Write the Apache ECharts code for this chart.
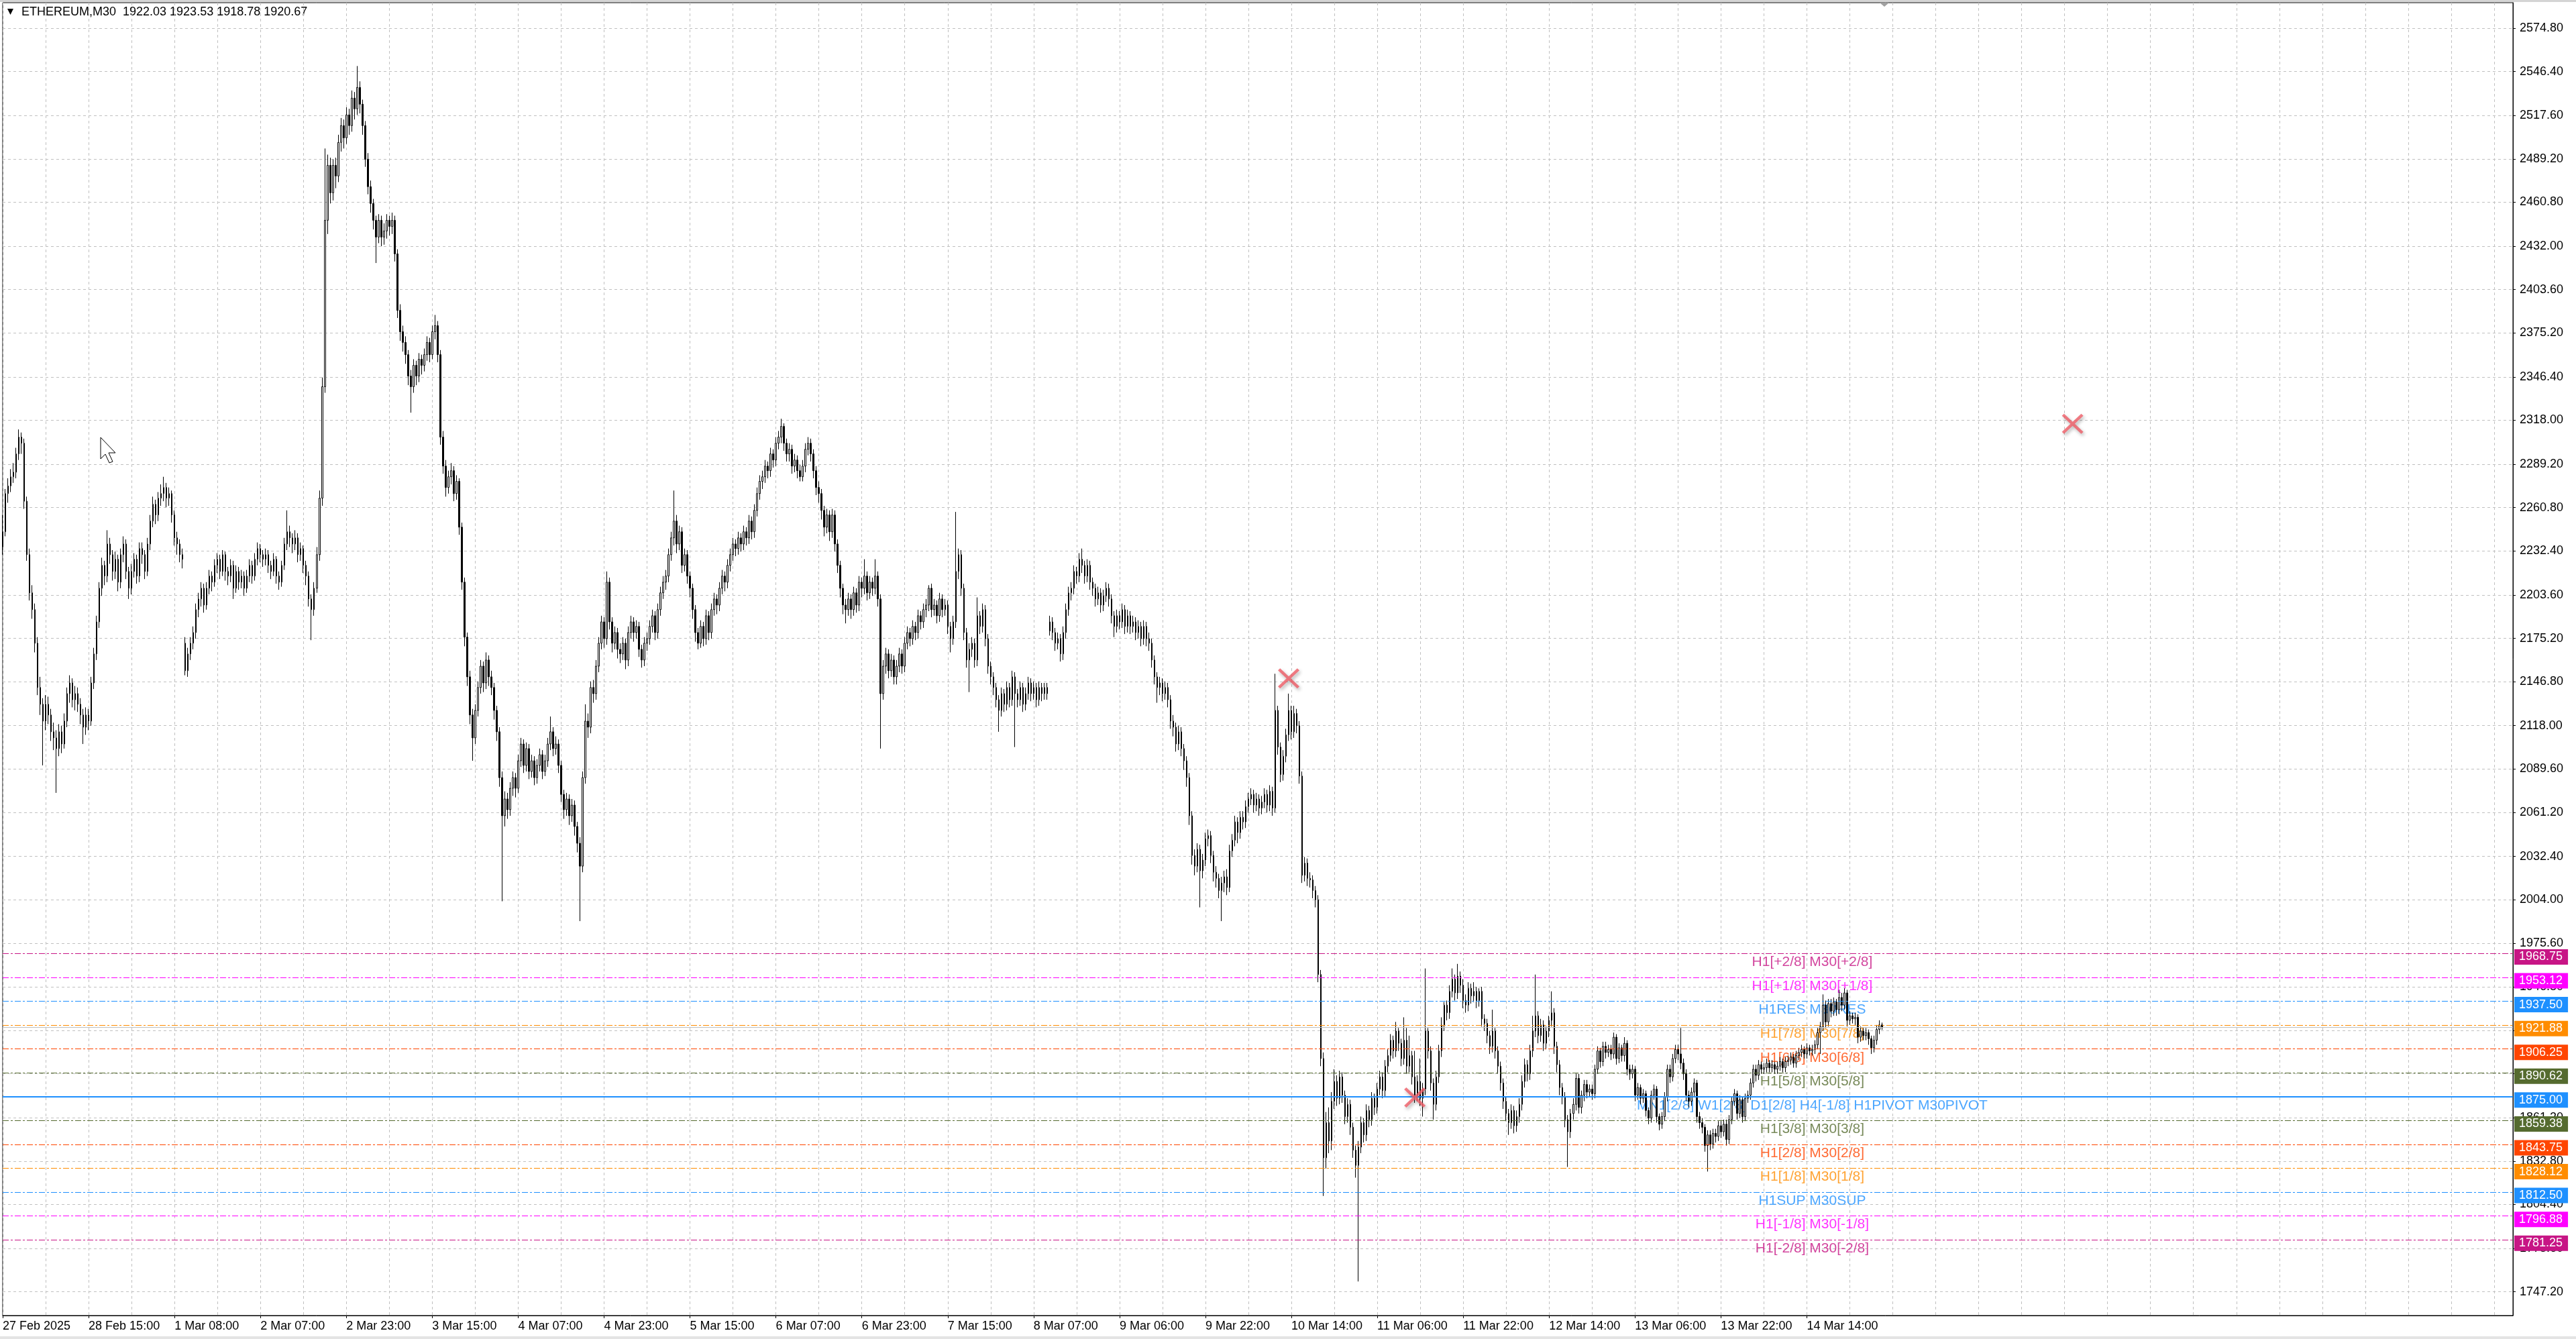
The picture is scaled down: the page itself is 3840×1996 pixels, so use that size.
<!DOCTYPE html>
<html>
<head>
<meta charset="utf-8">
<title>ETHEREUM,M30</title>
<script src="https://cdn.jsdelivr.net/npm/echarts@6/dist/echarts.min.js"></script>
<style>
html, body { margin: 0; padding: 0; background: #fff; }
#chart { width: 3840px; height: 1996px; }
</style>
</head>
<body>
<div id="chart"></div>
<script>
// time labels, one every 32 bars
var xTickLabels = ['27 Feb 2025', '28 Feb 15:00', '1 Mar 08:00', '2 Mar 07:00', '2 Mar 23:00', '3 Mar 15:00',
  '4 Mar 07:00', '4 Mar 23:00', '5 Mar 15:00', '6 Mar 07:00', '6 Mar 23:00', '7 Mar 15:00', '8 Mar 07:00',
  '9 Mar 06:00', '9 Mar 22:00', '10 Mar 14:00', '11 Mar 06:00', '11 Mar 22:00', '12 Mar 14:00',
  '13 Mar 06:00', '13 Mar 22:00', '14 Mar 14:00'];

// price scale labels
var yTicks = [1747.2, 1775.6, 1804.4, 1832.8, 1861.2, 1890.0, 1918.4, 1946.8, 1975.6, 2004.0, 2032.4,
  2061.2, 2089.6, 2118.0, 2146.8, 2175.2, 2203.6, 2232.4, 2260.8, 2289.2, 2318.0, 2346.4, 2375.2,
  2403.6, 2432.0, 2460.8, 2489.2, 2517.6, 2546.4, 2574.8];

// murrey levels
var levelValues = [1968.75, 1953.12, 1937.50, 1921.88, 1906.25, 1890.62, 1875.00, 1859.38, 1843.75,
  1828.12, 1812.50, 1796.88, 1781.25];
var levelNames = ['H1[+2/8] M30[+2/8]', 'H1[+1/8] M30[+1/8]', 'H1RES M30RES', 'H1[7/8] M30[7/8]',
  'H1[6/8] M30[6/8]', 'H1[5/8] M30[5/8]', 'MN1[2/8] W1[2/8] D1[2/8] H4[-1/8] H1PIVOT M30PIVOT',
  'H1[3/8] M30[3/8]', 'H1[2/8] M30[2/8]', 'H1[1/8] M30[1/8]', 'H1SUP M30SUP', 'H1[-1/8] M30[-1/8]',
  'H1[-2/8] M30[-2/8]'];
var levelColors = ['#C71585', '#FF00FF', '#1E90FF', '#FF8C00', '#FF4500', '#556B2F', '#1E90FF',
  '#556B2F', '#FF4500', '#FF8C00', '#1E90FF', '#FF00FF', '#C71585'];

// red crosses [bar, price]
var crossPoints = [[479, 2149], [526, 1874.5], [771, 2315.7]];

// candles [open, close, low, high]
var segA = [
  [2235,2245,2230,2256],[2245,2270,2242,2273],[2270,2275,2264,2280],[2275,2281,2271,2286],[2281,2284,2277,2290],
  [2284,2296,2280,2300],[2296,2307,2292,2312],[2307,2303,2296,2310],[2303,2265,2260,2306],[2265,2230,2226,2268],
  [2230,2205,2200,2234],[2205,2194,2188,2210],[2194,2172,2166,2198],[2172,2143,2138,2176],[2143,2132,2125,2150],
  [2132,2121,2092,2136],[2121,2132,2115,2138],[2132,2125,2119,2137],[2125,2114,2108,2129],[2114,2110,2102,2120],
  [2110,2103,2074,2115],[2103,2114,2098,2119],[2114,2106,2100,2118],[2106,2121,2103,2126],[2121,2139,2117,2143],
  [2139,2146,2133,2151],[2146,2135,2130,2149],[2135,2139,2128,2144],[2139,2132,2127,2143],[2132,2125,2119,2136],
  [2125,2117,2106,2129],[2117,2125,2112,2130],[2125,2121,2115,2129],[2121,2146,2118,2150],[2146,2165,2142,2169],
  [2165,2186,2161,2190],[2186,2208,2182,2212],[2208,2223,2203,2228],[2223,2216,2210,2226],[2216,2237,2212,2246],
  [2237,2230,2224,2241],[2230,2219,2213,2233],[2219,2227,2214,2232],[2227,2212,2206,2230],[2212,2230,2208,2234],
  [2230,2237,2225,2242],[2237,2219,2214,2240],[2219,2208,2201,2222],[2208,2219,2204,2224],[2219,2227,2215,2231],
  [2227,2216,2211,2230],[2216,2234,2212,2238],[2234,2230,2224,2238],[2230,2219,2214,2233],[2219,2237,2216,2241],
  [2237,2252,2233,2256],[2252,2263,2248,2268],[2263,2256,2250,2266],[2256,2267,2252,2271],[2267,2270,2262,2276],
  [2270,2274,2265,2281],[2274,2267,2261,2277],[2267,2270,2262,2274],[2270,2256,2251,2272],[2256,2241,2236,2259],
  [2241,2237,2230,2245],[2237,2230,2225,2240],[2230,2227,2221,2234],[2172,2154,2151,2176],[2154,2165,2150,2169],
  [2165,2172,2161,2176],[2172,2179,2168,2183],[2179,2194,2175,2198],[2194,2201,2189,2205],[2201,2208,2196,2212],
  [2208,2197,2192,2211],[2197,2208,2194,2212],[2208,2216,2204,2220],[2216,2212,2206,2219],[2212,2223,2209,2227],
  [2223,2227,2218,2231],[2227,2219,2214,2230],[2219,2230,2216,2233],[2230,2219,2213,2232],[2219,2216,2210,2222],
  [2216,2223,2212,2227],[2223,2208,2201,2226],[2208,2219,2205,2223],[2219,2212,2207,2222],[2212,2216,2208,2220],
  [2216,2208,2203,2219],[2208,2216,2205,2220],[2216,2223,2212,2227],[2223,2216,2211,2226],[2216,2227,2213,2231],
  [2227,2234,2223,2238],[2234,2230,2225,2237],[2230,2227,2222,2233],[2227,2230,2223,2234],[2230,2223,2218,2233],
  [2223,2219,2214,2226],[2219,2227,2216,2231],[2227,2216,2211,2229],[2216,2212,2207,2219],[2212,2223,2209,2226],
  [2223,2237,2220,2241],[2237,2245,2233,2259],[2245,2241,2235,2249],[2241,2237,2231,2244],[2237,2241,2233,2246],
  [2241,2230,2225,2244],[2230,2234,2226,2238],[2234,2223,2218,2236],[2223,2216,2210,2226],[2216,2201,2196,2219],
  [2201,2194,2174,2204],[2194,2208,2190,2212],[2208,2230,2205,2235],[2230,2267,2226,2272],[2267,2340,2262,2346]
];
var segB = [
  [2340,2449,2336,2496],[2449,2485,2440,2492],[2485,2467,2460,2490],[2467,2485,2462,2489],[2485,2478,2470,2490],
  [2478,2500,2474,2505],[2500,2511,2494,2516],[2511,2503,2496,2515],[2503,2518,2499,2523],[2518,2511,2505,2522],
  [2511,2529,2507,2534],[2529,2522,2515,2533],[2522,2536,2518,2550],[2536,2525,2519,2540],[2525,2511,2505,2528],
  [2511,2489,2484,2514],[2489,2471,2466,2493],[2471,2460,2454,2475],[2460,2449,2443,2463],[2449,2438,2421,2452],
  [2438,2449,2434,2453],[2449,2438,2432,2452],[2438,2442,2433,2447],[2442,2449,2437,2453],[2449,2445,2439,2452],
  [2445,2449,2440,2454],[2449,2427,2422,2452],[2427,2390,2385,2430],[2390,2376,2370,2394],[2376,2369,2363,2380],
  [2369,2361,2355,2373],[2361,2347,2341,2364],[2347,2340,2323,2351],[2340,2354,2336,2358],[2354,2347,2341,2357],
  [2347,2358,2343,2362],[2358,2354,2348,2361],[2354,2361,2350,2365],[2361,2369,2357,2373],[2369,2361,2356,2372],
  [2361,2376,2358,2380],[2376,2380,2371,2387],[2380,2361,2356,2383],[2361,2307,2302,2364],[2307,2288,2283,2311],
  [2288,2274,2268,2292],[2274,2281,2270,2285],[2281,2285,2276,2290],[2285,2270,2265,2288],[2270,2278,2266,2282],
  [2278,2248,2243,2280],[2248,2212,2207,2251],[2212,2176,2170,2215],[2176,2150,2144,2179],[2150,2125,2119,2154],
  [2125,2110,2095,2129],[2110,2128,2106,2132],[2128,2143,2124,2147],[2143,2157,2139,2161],[2157,2146,2140,2160],
  [2146,2161,2142,2166],[2161,2150,2144,2164],[2150,2143,2138,2154],[2143,2128,2122,2146],[2128,2114,2108,2131],
  [2114,2084,2078,2117],[2084,2059,2003,2088],[2059,2070,2052,2075],[2070,2063,2057,2074],[2063,2077,2059,2081],
  [2077,2084,2072,2088],[2084,2077,2071,2087],[2077,2095,2074,2099],[2095,2106,2091,2110],[2106,2092,2087,2109],
  [2092,2103,2088,2107],[2103,2088,2083,2106],[2088,2095,2084,2099],[2095,2084,2079,2098],[2084,2092,2080,2096],
  [2092,2099,2088,2103],[2099,2088,2083,2102],[2088,2095,2085,2099],[2095,2106,2091,2110],[2106,2114,2102,2124],
  [2114,2103,2098,2117],[2103,2106,2099,2111],[2106,2092,2087,2109],[2092,2073,2068,2095],[2073,2063,2057,2076],
  [2063,2070,2059,2074],[2070,2059,2053,2073],[2059,2066,2055,2070],[2066,2052,2046,2069],[2052,2041,2035,2055],
  [2041,2026,1990,2045],[2026,2084,2022,2088],[2084,2121,2080,2132],[2121,2117,2110,2126],[2117,2143,2113,2147],
  [2143,2139,2133,2148],[2139,2157,2135,2161],[2157,2172,2153,2176],[2172,2186,2168,2190],[2186,2175,2169,2189],
  [2175,2212,2171,2219],[2212,2186,2181,2215],[2186,2172,2166,2189],[2172,2179,2168,2183],[2179,2168,2162,2182],
  [2168,2165,2159,2172],[2165,2172,2161,2176],[2172,2161,2155,2175],[2161,2179,2157,2183],[2179,2186,2175,2190],
  [2186,2179,2173,2189],[2179,2183,2175,2187],[2183,2168,2163,2186],[2168,2161,2156,2171],[2161,2172,2157,2176]
];
var segC = [
  [2172,2175,2167,2179],[2175,2183,2171,2187],[2183,2190,2179,2194],[2190,2179,2174,2193],[2179,2194,2175,2198],
  [2194,2205,2190,2209],[2205,2212,2201,2216],[2212,2216,2207,2220],[2216,2230,2212,2234],[2230,2241,2226,2245],
  [2241,2252,2236,2272],[2252,2237,2231,2256],[2237,2245,2233,2249],[2245,2223,2218,2248],[2223,2230,2219,2234],
  [2230,2216,2211,2233],[2216,2208,2202,2219],[2208,2194,2188,2211],[2194,2179,2173,2197],[2179,2172,2168,2182],
  [2172,2183,2169,2187],[2183,2175,2170,2186],[2175,2190,2171,2194],[2190,2179,2174,2193],[2179,2194,2175,2198],
  [2194,2201,2190,2205],[2201,2197,2191,2204],[2197,2208,2193,2212],[2208,2216,2204,2220],[2216,2212,2206,2219],
  [2212,2223,2208,2227],[2223,2230,2219,2234],[2230,2237,2226,2241],[2237,2234,2229,2240],[2234,2241,2230,2245],
  [2241,2237,2232,2244],[2237,2245,2233,2249],[2245,2241,2236,2248],[2241,2252,2237,2256],[2252,2245,2240,2255],
  [2245,2259,2241,2263],[2259,2270,2255,2274],[2270,2278,2266,2282],[2278,2281,2273,2285],[2281,2288,2277,2292],
  [2288,2285,2280,2291],[2285,2296,2281,2300],[2296,2292,2287,2299],[2292,2303,2288,2307],[2303,2307,2299,2311],
  [2307,2314,2303,2319],[2314,2303,2298,2316],[2303,2296,2291,2306],[2296,2299,2291,2303],[2299,2288,2283,2302],
  [2288,2292,2284,2296],[2292,2285,2280,2295],[2285,2281,2278,2289],[2281,2288,2278,2292],[2288,2299,2284,2303],
  [2299,2303,2295,2307],[2303,2296,2291,2306],[2296,2285,2280,2299],[2285,2274,2269,2288],[2274,2270,2264,2278],
  [2270,2259,2253,2273],[2259,2248,2242,2262],[2248,2256,2244,2260],[2256,2245,2239,2259],[2245,2256,2241,2260],
  [2256,2237,2232,2259],[2237,2223,2218,2240],[2223,2208,2202,2226],[2208,2197,2191,2211],[2197,2194,2185,2201],
  [2194,2201,2190,2205],[2201,2194,2188,2204],[2194,2205,2190,2209],[2205,2197,2192,2208],[2197,2212,2193,2216],
  [2212,2208,2202,2215],[2208,2216,2204,2227],[2216,2205,2200,2219],[2205,2212,2201,2216],[2212,2208,2203,2215],
  [2208,2216,2204,2227],[2216,2201,2196,2219],[2201,2139,2103,2204],[2139,2157,2135,2161],[2157,2165,2152,2169],
  [2165,2154,2149,2168],[2154,2161,2150,2165],[2161,2150,2145,2164],[2150,2157,2145,2161],[2157,2165,2153,2169],
  [2165,2157,2152,2168],[2157,2172,2153,2176],[2172,2179,2168,2183],[2179,2175,2170,2182],[2175,2183,2171,2187],
  [2183,2179,2174,2186],[2179,2190,2175,2194],[2190,2186,2181,2193],[2186,2194,2182,2198],[2194,2197,2189,2201],
  [2197,2208,2193,2210],[2208,2194,2189,2211],[2194,2197,2190,2201],[2197,2190,2185,2200],[2190,2201,2186,2205],
  [2201,2194,2189,2204],[2194,2197,2190,2201],[2197,2183,2178,2200],[2183,2175,2166,2186],[2175,2186,2171,2190],
  [2186,2219,2182,2258],[2219,2230,2214,2234],[2230,2208,2203,2233],[2208,2179,2174,2211],[2179,2161,2156,2182]
];
var segD = [
  [2161,2168,2140,2172],[2168,2172,2163,2176],[2172,2161,2156,2175],[2161,2190,2157,2202],[2190,2183,2178,2193],
  [2183,2194,2179,2198],[2194,2175,2170,2197],[2175,2157,2152,2178],[2157,2150,2145,2160],[2150,2143,2138,2153],
  [2143,2135,2130,2146],[2135,2128,2114,2138],[2128,2139,2124,2143],[2139,2132,2127,2142],[2132,2143,2128,2147],
  [2143,2135,2130,2146],[2135,2150,2131,2154],[2150,2139,2104,2153],[2139,2135,2130,2142],[2135,2143,2131,2147],
  [2143,2132,2127,2146],[2132,2139,2128,2143],[2139,2146,2135,2150],[2146,2139,2134,2149],[2139,2143,2135,2147],
  [2143,2135,2130,2146],[2135,2143,2131,2147],[2143,2139,2134,2146],[2139,2143,2135,2146],[2143,2139,2135,2146],
  [2180,2186,2177,2190],[2186,2179,2174,2189],[2179,2172,2167,2182],[2172,2175,2168,2179],[2175,2165,2160,2178],
  [2165,2179,2161,2183],[2179,2194,2175,2198],[2194,2205,2190,2209],[2205,2208,2200,2212],[2208,2219,2204,2223],
  [2219,2216,2211,2222],[2216,2227,2212,2231],[2227,2223,2218,2234],[2223,2216,2211,2226],[2216,2223,2212,2227],
  [2223,2212,2207,2226],[2212,2208,2203,2215],[2208,2201,2196,2211],[2201,2205,2197,2209],[2205,2197,2192,2208],
  [2197,2203,2193,2207],[2203,2208,2199,2212],[2208,2201,2196,2211],[2201,2190,2185,2204],[2190,2183,2176,2193],
  [2183,2190,2179,2194],[2190,2186,2181,2193],[2186,2194,2182,2198],[2194,2183,2178,2197],[2183,2190,2179,2194],
  [2190,2183,2178,2193],[2183,2186,2179,2190],[2186,2179,2174,2189],[2179,2183,2175,2187],[2183,2175,2170,2186],
  [2175,2183,2171,2187],[2183,2175,2170,2186],[2175,2172,2167,2179],[2172,2161,2156,2175],[2161,2150,2145,2164],
  [2150,2143,2133,2153],[2143,2146,2138,2150],[2146,2139,2134,2149],[2139,2143,2135,2147],[2143,2135,2130,2146],
  [2135,2121,2116,2138],[2121,2117,2111,2125],[2117,2106,2101,2120],[2106,2114,2102,2118],[2114,2103,2098,2117],
  [2103,2095,2089,2106],[2095,2084,2078,2098],[2084,2059,2053,2087],[2059,2033,2027,2062],[2033,2026,2020,2037],
  [2026,2037,2022,2041],[2037,2023,1999,2040],[2023,2030,2018,2034],[2030,2044,2026,2048],[2044,2046,2039,2050],
  [2046,2033,2028,2049],[2033,2022,2016,2036],[2022,2018,2012,2026],[2018,2010,2005,2021],[2010,2015,1990,2019],
  [2015,2019,2009,2023],[2019,2012,2007,2024],[2012,2036,2009,2040],[2036,2043,2032,2047],[2043,2055,2039,2059],
  [2055,2048,2041,2058],[2048,2058,2044,2062],[2058,2055,2050,2062],[2055,2065,2051,2069],[2065,2070,2061,2074],
  [2070,2073,2066,2077],[2073,2066,2061,2076],[2066,2070,2062,2074],[2070,2064,2059,2073],[2064,2068,2060,2072],
  [2068,2073,2064,2077],[2073,2066,2061,2076],[2066,2075,2062,2079],[2075,2064,2059,2078],[2064,2128,2061,2152],
  [2128,2104,2099,2131],[2104,2086,2081,2107],[2086,2098,2082,2102],[2098,2112,2094,2116],[2112,2128,2108,2139]
];
var segE = [
  [2128,2114,2109,2131],[2114,2126,2110,2131],[2126,2118,2113,2129],[2118,2085,2080,2121],[2085,2020,2015,2088],
  [2020,2028,2016,2032],[2028,2018,2013,2031],[2018,2017,2012,2022],[2017,2010,2005,2020],[2010,2004,1999,2013],
  [2004,1955,1950,2007],[1955,1900,1895,1958],[1900,1835,1810,1904],[1835,1858,1828,1865],[1858,1846,1838,1868],
  [1846,1872,1840,1878],[1872,1885,1867,1893],[1885,1874,1869,1889],[1874,1888,1870,1892],[1888,1876,1871,1891],
  [1876,1862,1857,1879],[1862,1870,1858,1874],[1870,1855,1850,1873],[1855,1840,1835,1858],[1840,1830,1822,1843],
  [1830,1842,1754,1846],[1842,1858,1838,1862],[1858,1850,1845,1861],[1850,1866,1846,1870],[1866,1860,1855,1869],
  [1860,1874,1856,1878],[1874,1868,1863,1877],[1868,1880,1864,1884],[1880,1888,1876,1892],[1888,1879,1874,1891],
  [1879,1895,1875,1899],[1895,1902,1891,1906],[1902,1912,1898,1916],[1912,1905,1900,1915],[1905,1918,1901,1924],
  [1918,1910,1905,1920],[1910,1900,1895,1913],[1900,1912,1896,1927],[1912,1895,1890,1920],[1895,1902,1891,1915],
  [1902,1888,1883,1905],[1888,1876,1871,1905],[1876,1885,1872,1889],[1885,1874,1869,1900],[1874,1880,1862,1884],
  [1880,1918,1876,1959],[1918,1905,1900,1920],[1905,1884,1879,1908],[1884,1870,1860,1887],[1870,1888,1866,1892],
  [1888,1905,1884,1909],[1905,1922,1901,1927],[1922,1935,1918,1937],[1935,1930,1925,1938],[1930,1944,1926,1948],
  [1944,1952,1940,1959],[1952,1943,1938,1955],[1943,1954,1939,1962],[1954,1948,1943,1957],[1948,1938,1933,1952],
  [1938,1935,1930,1942],[1935,1946,1931,1950],[1946,1941,1936,1949],[1941,1944,1937,1950],[1944,1938,1933,1947],
  [1938,1944,1934,1946],[1944,1926,1921,1947],[1926,1923,1918,1929],[1923,1915,1910,1926],[1915,1908,1903,1918],
  [1908,1918,1904,1932],[1918,1905,1900,1920],[1905,1895,1890,1908],[1895,1884,1879,1898],[1884,1872,1867,1887],
  [1872,1864,1859,1875],[1864,1858,1850,1867],[1858,1866,1854,1870],[1866,1856,1851,1869],[1856,1862,1852,1866],
  [1862,1870,1858,1874],[1870,1885,1866,1889],[1885,1896,1881,1900],[1896,1890,1885,1899],[1890,1905,1886,1909],
  [1905,1918,1901,1928],[1918,1928,1914,1955],[1928,1915,1910,1931],[1915,1922,1911,1926],[1922,1910,1905,1925],
  [1910,1918,1906,1921],[1918,1925,1914,1928],[1925,1930,1921,1944],[1930,1908,1903,1933],[1908,1896,1891,1911],
  [1896,1881,1876,1899],[1881,1875,1870,1884],[1875,1860,1855,1878],[1860,1852,1829,1863],[1852,1864,1848,1867],
  [1864,1870,1860,1874],[1870,1887,1866,1890],[1887,1868,1864,1890],[1868,1876,1864,1879],[1876,1883,1872,1886],
  [1883,1878,1874,1886],[1878,1880,1875,1883],[1880,1877,1873,1883],[1877,1893,1874,1896],[1893,1905,1890,1908],
  [1905,1898,1894,1907],[1898,1908,1895,1911],[1908,1904,1900,1911],[1904,1906,1901,1909],[1906,1903,1899,1909]
];
var segF = [
  [1903,1914,1900,1917],[1914,1900,1896,1916],[1900,1907,1897,1910],[1907,1902,1898,1909],[1902,1910,1898,1914],
  [1910,1893,1889,1912],[1893,1890,1886,1896],[1890,1893,1887,1896],[1893,1876,1872,1895],[1876,1881,1873,1884],
  [1881,1874,1870,1883],[1874,1877,1871,1880],[1877,1866,1862,1879],[1866,1861,1857,1868],[1861,1876,1858,1879],
  [1876,1880,1873,1883],[1880,1862,1858,1882],[1862,1857,1853,1864],[1857,1862,1854,1865],[1862,1875,1859,1878],
  [1875,1893,1872,1896],[1893,1888,1884,1896],[1888,1900,1885,1903],[1900,1906,1897,1909],[1906,1903,1899,1909],
  [1903,1897,1893,1920],[1897,1890,1886,1900],[1890,1876,1872,1893],[1876,1872,1868,1879],[1872,1878,1869,1881],
  [1878,1884,1875,1887],[1884,1862,1858,1886],[1862,1858,1854,1865],[1858,1855,1851,1861],[1855,1843,1839,1857],
  [1843,1850,1826,1853],[1850,1844,1840,1853],[1844,1851,1841,1854],[1851,1849,1845,1854],[1849,1856,1846,1859],
  [1856,1852,1848,1859],[1852,1857,1849,1860],[1857,1847,1843,1860],[1847,1860,1844,1863],[1860,1872,1857,1875],
  [1872,1877,1869,1880],[1877,1864,1860,1879],[1864,1873,1861,1876],[1873,1862,1858,1875],[1862,1874,1859,1877],
  [1874,1876,1871,1879],[1876,1884,1873,1887],[1884,1893,1881,1896],[1893,1889,1885,1896],[1889,1896,1886,1899],
  [1896,1893,1890,1898],[1893,1894,1890,1897],[1894,1897,1891,1900],[1897,1894,1891,1899],[1894,1896,1891,1899],
  [1896,1893,1890,1898],[1893,1895,1890,1898],[1895,1898,1892,1901],[1898,1894,1891,1900],[1894,1898,1891,1901],
  [1898,1899,1895,1902],[1899,1901,1896,1904],[1901,1897,1894,1903],[1897,1902,1894,1905],[1902,1904,1899,1907],
  [1904,1906,1901,1909],[1906,1903,1900,1908],[1903,1907,1900,1910],[1907,1905,1902,1909],[1905,1906,1902,1909],
  [1906,1909,1903,1912],[1909,1917,1906,1920],[1917,1921,1903,1924],[1921,1935,1918,1942],[1935,1924,1920,1938],
  [1924,1936,1921,1939],[1936,1931,1927,1939],[1931,1937,1928,1940],[1937,1932,1928,1939],[1932,1940,1929,1945],
  [1940,1935,1931,1943],[1935,1943,1932,1946],[1943,1925,1921,1945],[1925,1928,1922,1931],[1928,1926,1923,1930],
  [1926,1927,1922,1930],[1927,1914,1910,1929],[1914,1918,1911,1921],[1918,1915,1912,1920],[1915,1917,1912,1920],
  [1917,1913,1909,1919],[1913,1907,1903,1915],[1907,1912,1904,1915],[1912,1919,1909,1922],[1919,1922,1916,1925],
  [1922.03,1920.67,1918.78,1923.53]
];

var candles = segA.concat(segB, segC, segD, segE, segF);
var lastClose = candles[candles.length - 1][1];

var FONT = '"Liberation Sans", Arial, sans-serif';
var slotCount = 936;   // bar slots across the plot, incl. empty space on the right
var xCats = [];
for (var i = 0; i < slotCount; i++) {
  xCats.push(i % 32 === 0 && xTickLabels[i / 32] ? xTickLabels[i / 32] : '');
}
function hasLabel(idx, val) { return val !== ''; }

var levelLines = [{
  yAxis: lastClose,
  lineStyle: { color: '#C0C0C0', type: 'solid', width: 1 },
  label: { show: false }
}];
levelValues.forEach(function (v, k) {
  var pivot = levelNames[k].indexOf('PIVOT') >= 0;
  levelLines.push({
    yAxis: v,
    lineStyle: { color: levelColors[k], type: pivot ? 'solid' : [9, 3, 3, 3], width: pivot ? 2 : 1 },
    label: {
      show: true, position: 'end', distance: 2, offset: [0, 5],
      formatter: function (p) { return p.value.toFixed(2); },
      color: '#fff', backgroundColor: levelColors[k],
      fontSize: 18, lineHeight: 19, fontFamily: FONT, padding: [2, 8, 2, 7]
    }
  });
});

var chart = echarts.init(document.getElementById('chart'));
var option = {
  animation: false,
  backgroundColor: '#fff',
  grid: { left: 4, right: 94, top: 4, bottom: 35, show: true, borderColor: '#000', borderWidth: 1, backgroundColor: '#fff' },
  xAxis: {
    type: 'category',
    data: xCats,
    boundaryGap: false,
    axisLine: { lineStyle: { color: '#000', width: 1 } },
    axisTick: { interval: hasLabel, length: 4, lineStyle: { color: '#000' } },
    axisLabel: { interval: hasLabel, align: 'left', margin: 7, color: '#000', fontSize: 18, fontFamily: FONT },
    splitLine: { show: true, interval: function (idx) { return idx % 16 === 0; }, lineStyle: { color: '#C0C0C0', type: [4, 4] } }
  },
  yAxis: {
    type: 'value',
    position: 'right',
    min: 1731.7,
    max: 2591.5,
    axisLine: { show: true, lineStyle: { color: '#000' } },
    axisTick: { show: true, length: 4, customValues: yTicks, lineStyle: { color: '#000' } },
    axisLabel: {
      customValues: yTicks, margin: 10, color: '#000', fontSize: 18, fontFamily: FONT,
      formatter: function (v) { return v.toFixed(2); }
    },
    splitLine: { show: true, lineStyle: { color: '#C0C0C0', type: [4, 4] } }
  },
  series: [
    {
      name: 'levels',
      type: 'scatter',
      z: 1,
      silent: true,
      symbolSize: 1,
      itemStyle: { color: 'rgba(0,0,0,0)' },
      data: levelValues.map(function (v, k) {
        return { value: [674, v], label: { color: levelColors[k] } };
      }),
      label: {
        show: true, position: 'bottom', distance: 2,
        formatter: function (p) { return levelNames[p.dataIndex]; },
        fontSize: 21, lineHeight: 21, fontFamily: FONT
      },
      markLine: { silent: true, symbol: ['none', 'none'], animation: false, data: levelLines }
    },
    {
      name: 'ETHEREUM,M30',
      type: 'candlestick',
      z: 3,
      large: false,
      barWidth: 2,
      data: candles,
      itemStyle: { color: '#fff', color0: '#000', borderColor: '#000', borderColor0: '#000', borderWidth: 1 }
    },
    {
      name: 'crosses',
      type: 'scatter',
      z: 5,
      silent: true,
      symbol: 'path://M0,2L2,0L10,8L18,0L20,2L12,10L20,18L18,20L10,12L2,20L0,18L8,10Z',
      symbolSize: [32, 30],
      itemStyle: { color: '#EF5C66', shadowBlur: 5, shadowColor: 'rgba(0,0,0,0.35)', shadowOffsetX: 2, shadowOffsetY: 3 },
      data: crossPoints
    }
  ],
  graphic: [
    { type: 'rect', left: 0, top: 0, shape: { width: 3840, height: 3 }, style: { fill: '#D4D4D4' }, silent: true },
    { type: 'rect', left: 0, top: 1992, shape: { width: 3840, height: 4 }, style: { fill: '#E4E4E4' }, silent: true },
    { type: 'polygon', shape: { points: [[11, 13], [20, 13], [15.5, 22]] }, style: { fill: '#000' }, silent: true },
    {
      type: 'text', left: 32, top: 9, silent: true,
      style: { text: 'ETHEREUM,M30  1922.03 1923.53 1918.78 1920.67', font: '18px ' + FONT, fill: '#000' }
    },
    { type: 'polygon', shape: { points: [[2802, 4], [2816, 4], [2809, 10]] }, style: { fill: '#A0A0A0' }, silent: true },
    {
      type: 'polygon', silent: true, z: 100,
      shape: { points: [[150, 652], [150, 684], [157, 677], [163, 690], [168, 688], [162, 675], [172, 675]] },
      style: { fill: '#fff', stroke: '#000', lineWidth: 1 }
    }
  ]
};
chart.setOption(option);
</script>
</body>
</html>
